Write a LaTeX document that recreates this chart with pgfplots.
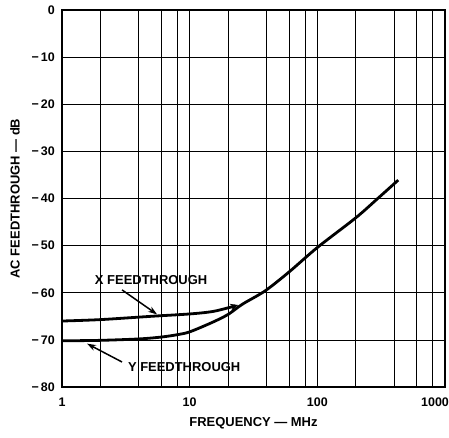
\documentclass[border=0pt]{standalone}
\usepackage{pgfplots}
\pgfplotsset{compat=1.18}
\usepackage{fontspec}
\setmainfont{Liberation Sans}
\usetikzlibrary{arrows.meta}
\begin{document}
\begin{tikzpicture}
\begin{axis}[
  at={(0,0)}, anchor=south west,
  scale only axis, width=383bp, height=377bp,
  xmode=log, xmin=1, xmax=1000, ymin=-80, ymax=0,
  xtick={1,2,4,6,8,10,20,40,60,80,100,200,400,600,800,1000},
  xticklabels={1,,,,,10,,,,,100,,,,,\hspace*{-20bp}1000},
  ytick={-80,-70,-60,-50,-40,-30,-20,-10,0},
  yticklabels={−\,80,−\,70,−\,60,−\,50,−\,40,−\,30,−\,20,−\,10,0},
  grid=major,
  major grid style={black, line width=0.75bp},
  axis line style={line width=1.8bp},
  tick style={draw=none},
  ticklabel style={font=\bfseries\fontsize{12.5}{14}\selectfont},
  xticklabel style={anchor=center, yshift=-15bp},
  yticklabel style={anchor=east, inner sep=0pt, xshift=-7bp},
  xlabel={FREQUENCY — MHz},
  ylabel={AC FEEDTHROUGH — dB},
  label style={font=\bfseries\fontsize{13}{15}\selectfont},
  xlabel style={at={(axis description cs:0.5,-0.0955)}, anchor=center},
  ylabel style={at={(axis description cs:-0.1227,0.5)}, anchor=center},
]
% Y feedthrough
\addplot[smooth, line width=2.8bp, black] coordinates {
(1,-70.2) (2,-70.1) (4,-69.8) (6,-69.4) (8,-68.9) (10,-68.3) (15,-66.3) (20,-64.6) (26,-62.4) (39,-59.6) (60,-55.6) (100,-50.4) (200,-44.1) (300,-39.9) (430,-36.1)
};
% X feedthrough
\addplot[smooth, line width=2.8bp, black, -{Stealth[length=8bp,width=7bp]}] coordinates {
(1,-66.0) (2,-65.7) (5,-65.0) (10,-64.5) (15,-64.0) (20,-63.2) (24,-62.6)
};
\node[font=\bfseries\fontsize{13}{15}\selectfont] at (axis cs:4.99,-57.3) {X FEEDTHROUGH};
\node[font=\bfseries\fontsize{13}{15}\selectfont] at (axis cs:9.06,-75.8) {Y FEEDTHROUGH};
\draw[line width=1.5bp, -{Stealth[length=9bp,width=6bp]}] (axis cs:2.955,-59.4) -- (axis cs:5.56,-64.6);
\draw[line width=1.5bp, -{Stealth[length=9bp,width=6bp]}] (axis cs:2.955,-74.7) -- (axis cs:1.57,-70.8);
\end{axis}
\pgfresetboundingbox
\useasboundingbox (-62bp,-51bp) rectangle (387bp,387bp);
\end{tikzpicture}
\end{document}
